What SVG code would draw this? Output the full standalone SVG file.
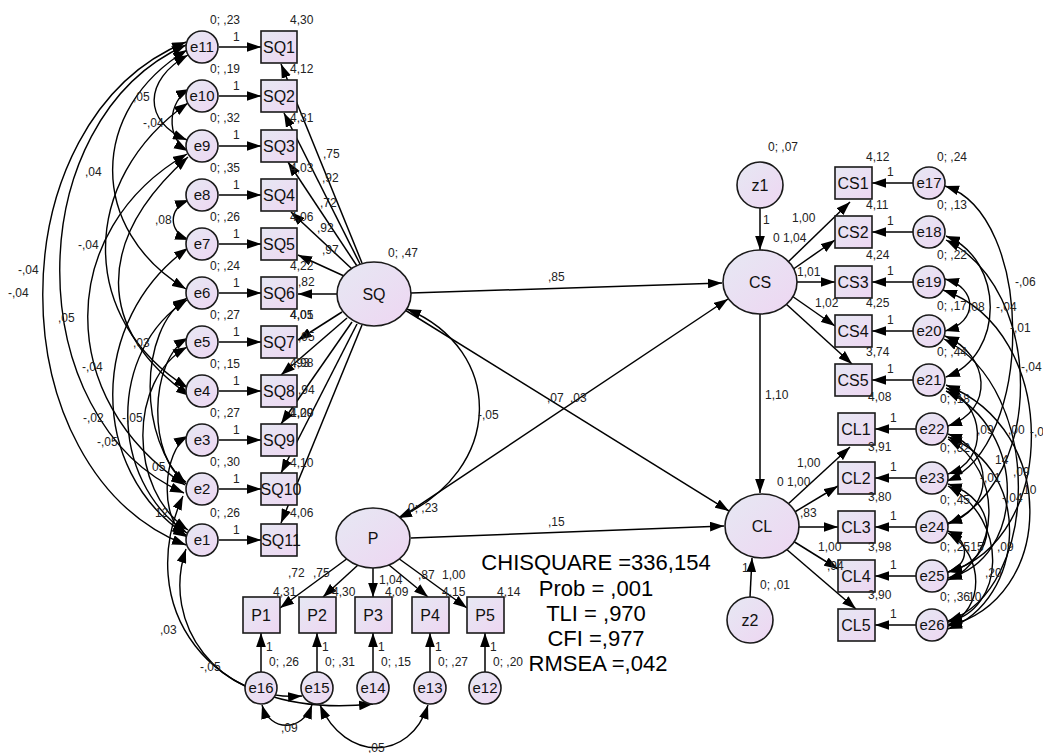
<svg xmlns="http://www.w3.org/2000/svg" width="1043" height="753" viewBox="0 0 1043 753">
<defs>
<linearGradient id="g" x1="0" y1="0" x2="1" y2="1"><stop offset="0" stop-color="#e6e8f3"/><stop offset="1" stop-color="#eed6f2"/></linearGradient>
<marker id="a" viewBox="0 0 13 9" refX="13" refY="4.5" markerWidth="14" markerHeight="10" markerUnits="userSpaceOnUse" orient="auto-start-reverse"><path d="M0,0L13,4.5L0,9z" fill="#000"/></marker>
</defs>
<style>
.n{fill:url(#g);stroke:#1a1a1a;stroke-width:1.6}
.c{fill:none;stroke:#000;stroke-width:1.5;marker-end:url(#a)}
.cv{fill:none;stroke:#000;stroke-width:1.4;marker-start:url(#a);marker-end:url(#a)}
text{font-family:"Liberation Sans",Arial,sans-serif;fill:#111}
.l{font-size:12px;fill:#222}
.t{font-size:15px;text-anchor:middle}
.b{font-size:16px;text-anchor:middle}
.s{font-size:22px;text-anchor:middle;fill:#000}
</style>
<rect width="1043" height="753" fill="#fff"/>

<g id="connectors">
<line class="c" x1="219" y1="47" x2="261" y2="47"/>
<line class="c" x1="219" y1="96" x2="261" y2="96"/>
<line class="c" x1="219" y1="146" x2="261" y2="146"/>
<line class="c" x1="219" y1="195" x2="261" y2="195"/>
<line class="c" x1="219" y1="244" x2="261" y2="244"/>
<line class="c" x1="219" y1="293" x2="261" y2="293"/>
<line class="c" x1="219" y1="342" x2="261" y2="342"/>
<line class="c" x1="219" y1="391" x2="261" y2="391"/>
<line class="c" x1="219" y1="440" x2="261" y2="440"/>
<line class="c" x1="219" y1="489" x2="261" y2="489"/>
<line class="c" x1="219" y1="540" x2="261" y2="540"/>
<line class="c" x1="362" y1="263" x2="281" y2="64"/>
<line class="c" x1="360" y1="264" x2="284" y2="113"/>
<line class="c" x1="357" y1="266" x2="288" y2="162"/>
<line class="c" x1="352" y1="269" x2="291" y2="212"/>
<line class="c" x1="344" y1="276" x2="298" y2="255"/>
<line class="c" x1="337" y1="294" x2="298" y2="294"/>
<line class="c" x1="342" y1="312" x2="298" y2="340"/>
<line class="c" x1="347" y1="318" x2="281" y2="375"/>
<line class="c" x1="352" y1="322" x2="281" y2="424"/>
<line class="c" x1="357" y1="324" x2="281" y2="473"/>
<line class="c" x1="362" y1="325" x2="281" y2="523"/>
<line class="c" x1="411" y1="293" x2="722" y2="283"/>
<line class="c" x1="405" y1="310" x2="729" y2="511"/>
<line class="c" x1="400" y1="518" x2="728" y2="299"/>
<line class="c" x1="411" y1="538" x2="724" y2="526"/>
<path class="cv" d="M407,309 C505,350 505,470 398,518"/>
<line class="c" x1="760" y1="208" x2="760" y2="250"/>
<line class="c" x1="760" y1="314" x2="760" y2="493"/>
<line class="c" x1="750" y1="597" x2="752" y2="558"/>
<line class="c" x1="787" y1="263" x2="850" y2="202"/>
<line class="c" x1="792" y1="270" x2="835" y2="240"/>
<line class="c" x1="797" y1="282" x2="835" y2="282"/>
<line class="c" x1="792" y1="296" x2="835" y2="326"/>
<line class="c" x1="785" y1="303" x2="852" y2="364"/>
<line class="c" x1="787" y1="505" x2="850" y2="447"/>
<line class="c" x1="793" y1="513" x2="838" y2="486"/>
<line class="c" x1="799" y1="527" x2="838" y2="527"/>
<line class="c" x1="793" y1="541" x2="838" y2="569"/>
<line class="c" x1="785" y1="548" x2="856" y2="609"/>
<line class="c" x1="913" y1="183" x2="872" y2="183"/>
<line class="c" x1="913" y1="232" x2="872" y2="232"/>
<line class="c" x1="913" y1="282" x2="872" y2="282"/>
<line class="c" x1="913" y1="331" x2="872" y2="331"/>
<line class="c" x1="913" y1="380" x2="872" y2="380"/>
<line class="c" x1="916" y1="429" x2="875" y2="429"/>
<line class="c" x1="916" y1="478" x2="875" y2="478"/>
<line class="c" x1="916" y1="527" x2="875" y2="527"/>
<line class="c" x1="916" y1="576" x2="875" y2="576"/>
<line class="c" x1="916" y1="625" x2="875" y2="625"/>
<line class="c" x1="348" y1="558" x2="280" y2="608"/>
<line class="c" x1="358" y1="565" x2="323" y2="597"/>
<line class="c" x1="373" y1="568" x2="373" y2="597"/>
<line class="c" x1="389" y1="565" x2="428" y2="597"/>
<line class="c" x1="398" y1="558" x2="467" y2="608"/>
<line class="c" x1="261" y1="672" x2="261" y2="633"/>
<line class="c" x1="317" y1="672" x2="317" y2="633"/>
<line class="c" x1="373" y1="672" x2="373" y2="633"/>
<line class="c" x1="430" y1="672" x2="430" y2="633"/>
<line class="c" x1="485" y1="672" x2="485" y2="633"/>
<path class="cv" d="M186,42 C-5,120 -5,470 186,545"/>
<path class="cv" d="M186,45 C18,120 18,420 184,493"/>
<path class="cv" d="M187,50 C88,110 88,230 186,289"/>
<path class="cv" d="M188,55 C143,80 143,122 187,140"/>
<path class="cv" d="M190,89 C168,100 165,138 188,151"/>
<path class="cv" d="M189,200 C168,208 168,232 189,240"/>
<path class="cv" d="M188,103 C78,180 78,320 188,388"/>
<path class="cv" d="M187,154 C55,230 55,400 185,485"/>
<path class="cv" d="M188,157 C95,240 95,330 190,396"/>
<path class="cv" d="M187,298 C138,330 138,440 186,484"/>
<path class="cv" d="M188,248 C88,320 88,470 186,535"/>
<path class="cv" d="M187,300 C108,350 108,480 187,533"/>
<path class="cv" d="M187,347 C128,380 128,490 188,530"/>
<path class="cv" d="M188,436 C163,450 158,520 187,537"/>
<path class="cv" d="M188,338 C148,360 148,460 186,482"/>
<path class="cv" d="M183,496 C135,600 200,722 373,704"/>
<path class="cv" d="M186,549 C160,625 220,702 302,696"/>
<path class="cv" d="M262,705 C270,732 302,732 312,705"/>
<path class="cv" d="M320,705 C345,762 410,762 428,705"/>
<path class="cv" d="M945,186 C1035,215 1035,445 947,481"/>
<path class="cv" d="M946,236 C1005,260 1005,355 946,377"/>
<path class="cv" d="M946,240 C1045,290 1045,480 948,524"/>
<path class="cv" d="M945,279 C978,288 978,322 945,331"/>
<path class="cv" d="M943,290 C1060,330 1060,540 948,572"/>
<path class="cv" d="M945,336 C990,355 995,410 948,426"/>
<path class="cv" d="M944,339 C1045,390 1040,590 948,621"/>
<path class="cv" d="M946,385 C1060,430 1055,600 948,626"/>
<path class="cv" d="M946,388 C985,405 990,460 948,474"/>
<path class="cv" d="M948,434 C995,450 995,510 948,523"/>
<path class="cv" d="M948,437 C1035,470 1025,600 948,629"/>
<path class="cv" d="M946,391 C1030,430 1025,560 948,578"/>
<path class="cv" d="M948,484 C1000,500 1000,560 948,572"/>
<path class="cv" d="M948,531 C970,540 970,565 948,572"/>
<path class="cv" d="M948,486 C1010,520 1005,610 948,622"/>
<path class="cv" d="M948,439 C1005,470 1000,560 948,580"/>
<path class="cv" d="M948,533 C985,555 985,610 948,625"/>
</g>

<g id="e11"><circle class="n" cx="202" cy="47" r="16"/><text class="t" x="202" y="52">e11</text></g>
<g id="e10"><circle class="n" cx="202" cy="96" r="16"/><text class="t" x="202" y="101">e10</text></g>
<g id="e9"><circle class="n" cx="202" cy="146" r="16"/><text class="t" x="202" y="151">e9</text></g>
<g id="e8"><circle class="n" cx="202" cy="195" r="16"/><text class="t" x="202" y="200">e8</text></g>
<g id="e7"><circle class="n" cx="202" cy="244" r="16"/><text class="t" x="202" y="249">e7</text></g>
<g id="e6"><circle class="n" cx="202" cy="293" r="16"/><text class="t" x="202" y="298">e6</text></g>
<g id="e5"><circle class="n" cx="202" cy="342" r="16"/><text class="t" x="202" y="347">e5</text></g>
<g id="e4"><circle class="n" cx="202" cy="391" r="16"/><text class="t" x="202" y="396">e4</text></g>
<g id="e3"><circle class="n" cx="202" cy="440" r="16"/><text class="t" x="202" y="445">e3</text></g>
<g id="e2"><circle class="n" cx="202" cy="489" r="16"/><text class="t" x="202" y="494">e2</text></g>
<g id="e1"><circle class="n" cx="202" cy="540" r="16"/><text class="t" x="202" y="545">e1</text></g>

<g id="SQ1"><rect class="n" x="261" y="31" width="36" height="32"/><text class="b" x="279" y="53">SQ1</text></g>
<g id="SQ2"><rect class="n" x="261" y="80" width="36" height="32"/><text class="b" x="279" y="102">SQ2</text></g>
<g id="SQ3"><rect class="n" x="261" y="130" width="36" height="32"/><text class="b" x="279" y="152">SQ3</text></g>
<g id="SQ4"><rect class="n" x="261" y="179" width="36" height="32"/><text class="b" x="279" y="201">SQ4</text></g>
<g id="SQ5"><rect class="n" x="261" y="228" width="36" height="32"/><text class="b" x="279" y="250">SQ5</text></g>
<g id="SQ6"><rect class="n" x="261" y="277" width="36" height="32"/><text class="b" x="279" y="299">SQ6</text></g>
<g id="SQ7"><rect class="n" x="261" y="326" width="36" height="32"/><text class="b" x="279" y="348">SQ7</text></g>
<g id="SQ8"><rect class="n" x="261" y="375" width="36" height="32"/><text class="b" x="279" y="397">SQ8</text></g>
<g id="SQ9"><rect class="n" x="261" y="424" width="36" height="32"/><text class="b" x="279" y="446">SQ9</text></g>
<g id="SQ10"><rect class="n" x="261" y="473" width="36" height="32"/><text class="b" x="281" y="495">SQ10</text></g>
<g id="SQ11"><rect class="n" x="261" y="524" width="36" height="32"/><text class="b" x="281" y="546">SQ11</text></g>

<g id="SQ"><ellipse class="n" cx="374" cy="294" rx="37" ry="32"/><text class="b" x="374" y="300">SQ</text></g>
<g id="P"><ellipse class="n" cx="373" cy="538" rx="37" ry="30"/><text class="b" x="373" y="544">P</text></g>
<g id="CS"><ellipse class="n" cx="760" cy="282" rx="37" ry="32"/><text class="b" x="760" y="288">CS</text></g>
<g id="CL"><ellipse class="n" cx="762" cy="526" rx="37" ry="32"/><text class="b" x="762" y="532">CL</text></g>
<g id="z1"><circle class="n" cx="760" cy="185" r="23"/><text class="b" x="760" y="191">z1</text></g>
<g id="z2"><circle class="n" cx="750" cy="620" r="23"/><text class="b" x="750" y="626">z2</text></g>

<g id="CS1"><rect class="n" x="835" y="167" width="37" height="32"/><text class="b" x="853" y="189">CS1</text></g>
<g id="CS2"><rect class="n" x="835" y="216" width="37" height="32"/><text class="b" x="853" y="238">CS2</text></g>
<g id="CS3"><rect class="n" x="835" y="266" width="37" height="32"/><text class="b" x="853" y="288">CS3</text></g>
<g id="CS4"><rect class="n" x="835" y="315" width="37" height="32"/><text class="b" x="853" y="337">CS4</text></g>
<g id="CS5"><rect class="n" x="835" y="364" width="37" height="32"/><text class="b" x="853" y="386">CS5</text></g>
<g id="CL1"><rect class="n" x="838" y="413" width="37" height="32"/><text class="b" x="856" y="435">CL1</text></g>
<g id="CL2"><rect class="n" x="838" y="462" width="37" height="32"/><text class="b" x="856" y="484">CL2</text></g>
<g id="CL3"><rect class="n" x="838" y="511" width="37" height="32"/><text class="b" x="856" y="533">CL3</text></g>
<g id="CL4"><rect class="n" x="838" y="560" width="37" height="32"/><text class="b" x="856" y="582">CL4</text></g>
<g id="CL5"><rect class="n" x="838" y="609" width="37" height="32"/><text class="b" x="856" y="631">CL5</text></g>

<g id="e17"><circle class="n" cx="929" cy="183" r="16"/><text class="t" x="929" y="188">e17</text></g>
<g id="e18"><circle class="n" cx="929" cy="232" r="16"/><text class="t" x="929" y="237">e18</text></g>
<g id="e19"><circle class="n" cx="929" cy="282" r="16"/><text class="t" x="929" y="287">e19</text></g>
<g id="e20"><circle class="n" cx="929" cy="331" r="16"/><text class="t" x="929" y="336">e20</text></g>
<g id="e21"><circle class="n" cx="929" cy="380" r="16"/><text class="t" x="929" y="385">e21</text></g>
<g id="e22"><circle class="n" cx="932" cy="429" r="16"/><text class="t" x="932" y="434">e22</text></g>
<g id="e23"><circle class="n" cx="932" cy="478" r="16"/><text class="t" x="932" y="483">e23</text></g>
<g id="e24"><circle class="n" cx="932" cy="527" r="16"/><text class="t" x="932" y="532">e24</text></g>
<g id="e25"><circle class="n" cx="932" cy="576" r="16"/><text class="t" x="932" y="581">e25</text></g>
<g id="e26"><circle class="n" cx="932" cy="625" r="16"/><text class="t" x="932" y="630">e26</text></g>

<g id="P1"><rect class="n" x="243" y="597" width="37" height="36"/><text class="b" x="261" y="621">P1</text></g>
<g id="P2"><rect class="n" x="299" y="597" width="37" height="36"/><text class="b" x="317" y="621">P2</text></g>
<g id="P3"><rect class="n" x="355" y="597" width="37" height="36"/><text class="b" x="373" y="621">P3</text></g>
<g id="P4"><rect class="n" x="412" y="597" width="37" height="36"/><text class="b" x="430" y="621">P4</text></g>
<g id="P5"><rect class="n" x="467" y="597" width="37" height="36"/><text class="b" x="485" y="621">P5</text></g>
<g id="e16"><circle class="n" cx="261" cy="688" r="16"/><text class="t" x="261" y="693">e16</text></g>
<g id="e15"><circle class="n" cx="317" cy="688" r="16"/><text class="t" x="317" y="693">e15</text></g>
<g id="e14"><circle class="n" cx="373" cy="688" r="16"/><text class="t" x="373" y="693">e14</text></g>
<g id="e13"><circle class="n" cx="430" cy="688" r="16"/><text class="t" x="430" y="693">e13</text></g>
<g id="e12"><circle class="n" cx="485" cy="688" r="16"/><text class="t" x="485" y="693">e12</text></g>

<g id="labels">
<text class="l" x="210" y="24">0; ,23</text><text class="l" x="233" y="41">1</text><text class="l" x="290" y="24">4,30</text>
<text class="l" x="210" y="73">0; ,19</text><text class="l" x="233" y="90">1</text><text class="l" x="290" y="73">4,12</text>
<text class="l" x="210" y="122">0; ,32</text><text class="l" x="233" y="139">1</text><text class="l" x="290" y="122">4,31</text>
<text class="l" x="210" y="172">0; ,35</text><text class="l" x="233" y="189">1</text><text class="l" x="290" y="172">4,03</text>
<text class="l" x="210" y="221">0; ,26</text><text class="l" x="233" y="238">1</text><text class="l" x="290" y="221">4,06</text>
<text class="l" x="210" y="270">0; ,24</text><text class="l" x="233" y="287">1</text><text class="l" x="290" y="270">4,22</text>
<text class="l" x="210" y="319">0; ,27</text><text class="l" x="233" y="336">1</text><text class="l" x="290" y="319">4,05</text><text class="l" x="290" y="319">4,01</text>
<text class="l" x="210" y="368">0; ,15</text><text class="l" x="233" y="385">1</text><text class="l" x="290" y="367">4,98</text><text class="l" x="293" y="367">,93</text>
<text class="l" x="210" y="417">0; ,27</text><text class="l" x="233" y="434">1</text><text class="l" x="290" y="417">4,20</text><text class="l" x="290" y="417">1,09</text>
<text class="l" x="210" y="466">0; ,30</text><text class="l" x="233" y="483">1</text><text class="l" x="290" y="467">4,10</text>
<text class="l" x="210" y="517">0; ,26</text><text class="l" x="233" y="534">1</text><text class="l" x="290" y="517">4,06</text>
<text class="l" x="323" y="158">,75</text><text class="l" x="322" y="182">,92</text><text class="l" x="320" y="207">,72</text><text class="l" x="317" y="232">,92</text><text class="l" x="322" y="254">,97</text><text class="l" x="298" y="286">,82</text><text class="l" x="298" y="341">,95</text><text class="l" x="298" y="394">,94</text>
<text class="l" x="133" y="101">,05</text><text class="l" x="143" y="127">-,04</text><text class="l" x="85" y="176">,04</text><text class="l" x="155" y="224">,08</text><text class="l" x="78" y="249">-,04</text><text class="l" x="18" y="274">-,04</text><text class="l" x="8" y="297">-,04</text><text class="l" x="58" y="322">,05</text><text class="l" x="133" y="347">,03</text><text class="l" x="82" y="371">-,04</text><text class="l" x="83" y="422">-,02</text><text class="l" x="122" y="422">-,05</text><text class="l" x="97" y="446">-,05</text><text class="l" x="152" y="471">05</text><text class="l" x="155" y="517">12</text>
<text class="l" x="160" y="634">,03</text><text class="l" x="200" y="671">-,05</text><text class="l" x="281" y="732">,09</text><text class="l" x="368" y="752">,05</text>
<text class="l" x="388" y="257">0; ,47</text><text class="l" x="408" y="512">0; ,23</text>
<text class="l" x="548" y="281">,85</text><text class="l" x="478" y="419">-,05</text><text class="l" x="547" y="402">,07</text><text class="l" x="570" y="402">,03</text><text class="l" x="548" y="526">,15</text>
<text class="l" x="288" y="577">,72</text><text class="l" x="313" y="577">,75</text><text class="l" x="273" y="596">4,31</text><text class="l" x="332" y="596">4,30</text><text class="l" x="379" y="584">1,04</text><text class="l" x="385" y="596">4,09</text><text class="l" x="418" y="579">,87</text><text class="l" x="442" y="579">1,00</text><text class="l" x="442" y="596">4,15</text><text class="l" x="497" y="596">4,14</text>
<text class="l" x="266" y="651">1</text><text class="l" x="269" y="666">0; ,26</text>
<text class="l" x="322" y="651">1</text><text class="l" x="325" y="666">0; ,31</text>
<text class="l" x="378" y="651">1</text><text class="l" x="381" y="666">0; ,15</text>
<text class="l" x="435" y="651">1</text><text class="l" x="438" y="666">0; ,27</text>
<text class="l" x="490" y="651">1</text><text class="l" x="493" y="666">0; ,20</text>
<text class="l" x="768" y="151">0; ,07</text><text class="l" x="763" y="224">1</text>
<text class="l" x="792" y="222">1,00</text><text class="l" x="773" y="242">0 1,04</text><text class="l" x="797" y="276">1,01</text><text class="l" x="815" y="307">1,02</text><text class="l" x="765" y="399">1,10</text>
<text class="l" x="797" y="467">1,00</text><text class="l" x="777" y="486">0 1,00</text><text class="l" x="800" y="517">,83</text><text class="l" x="818" y="551">1,00</text><text class="l" x="827" y="570">,94</text>
<text class="l" x="742" y="572">1</text><text class="l" x="760" y="589">0; ,01</text>
<text class="l" x="866" y="161">4,12</text><text class="l" x="887" y="176">1</text><text class="l" x="937" y="161">0; ,24</text>
<text class="l" x="866" y="209">4,11</text><text class="l" x="887" y="225">1</text><text class="l" x="937" y="209">0; ,13</text>
<text class="l" x="866" y="259">4,24</text><text class="l" x="887" y="275">1</text><text class="l" x="937" y="259">0; ,22</text>
<text class="l" x="866" y="307">4,25</text><text class="l" x="887" y="324">1</text><text class="l" x="937" y="310">0; ,17</text>
<text class="l" x="866" y="356">3,74</text><text class="l" x="887" y="373">1</text><text class="l" x="937" y="356">0; ,44</text>
<text class="l" x="868" y="401">4,08</text><text class="l" x="890" y="422">1</text><text class="l" x="940" y="403">0; ,18</text>
<text class="l" x="868" y="451">3,91</text><text class="l" x="890" y="471">1</text><text class="l" x="940" y="452">0; ,32</text>
<text class="l" x="868" y="501">3,80</text><text class="l" x="890" y="520">1</text><text class="l" x="940" y="504">0; ,45</text>
<text class="l" x="868" y="551">3,98</text><text class="l" x="890" y="569">1</text><text class="l" x="940" y="551">0; ,25</text>
<text class="l" x="868" y="599">3,90</text><text class="l" x="890" y="618">1</text><text class="l" x="940" y="601">0; ,36</text>
<text class="l" x="1015" y="286">-,06</text><text class="l" x="996" y="311">-,04</text><text class="l" x="1010" y="332">-,01</text><text class="l" x="968" y="311">,08</text><text class="l" x="1021" y="371">-,04</text><text class="l" x="977" y="434">,09</text><text class="l" x="1008" y="434">,00</text><text class="l" x="1030" y="436">-,0</text><text class="l" x="995" y="464">14</text><text class="l" x="980" y="482">-,01</text><text class="l" x="1013" y="476">,09</text><text class="l" x="1023" y="494">10</text><text class="l" x="1002" y="502">-,04</text><text class="l" x="967" y="551">,15</text><text class="l" x="997" y="551">,09</text><text class="l" x="985" y="577">,20</text><text class="l" x="968" y="601">10</text>
</g>

<g id="fit">
<text class="s" x="596" y="570">CHISQUARE =336,154</text>
<text class="s" x="596" y="596">Prob = ,001</text>
<text class="s" x="596" y="621">TLI = ,970</text>
<text class="s" x="596" y="646">CFI =,977</text>
<text class="s" x="598" y="671">RMSEA =,042</text>
</g>
</svg>
